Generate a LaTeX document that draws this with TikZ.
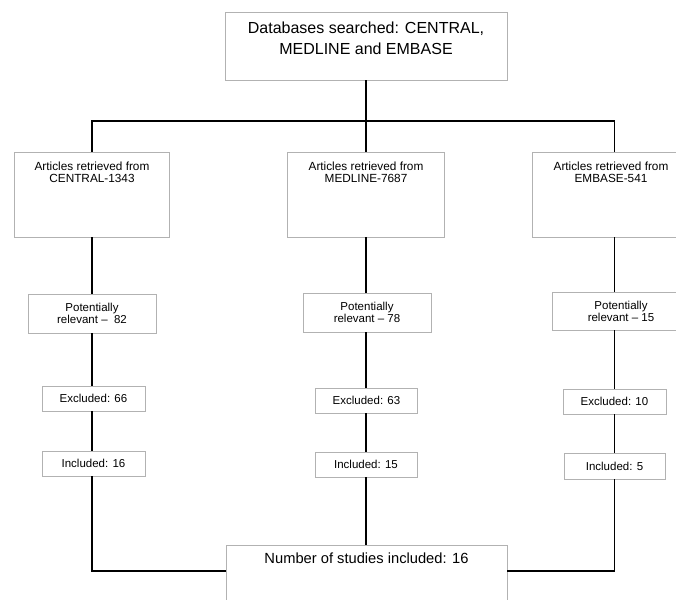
\documentclass[tikz,border=0pt]{standalone}
\usepackage{fontspec}
\setmainfont{Liberation Sans}
\usepackage{xcolor}
\usepackage{tikz}
\definecolor{boxgray}{RGB}{178,178,178}

\begin{document}
\begin{tikzpicture}[x=1pt,y=1pt]
		\tikzstyle{every node}+=[inner sep=0pt]
		\tikzstyle{box}=[draw=boxgray, line width=0.9pt, fill=white]
		\tikzstyle{link}=[black, line width=1.7pt]
		\tikzstyle{big}=[align=center, font=\fontsize{16}{21}\selectfont]
		\tikzstyle{mid}=[align=center, font=\fontsize{11.8}{12.6}\selectfont]
		\tikzstyle{small}=[align=center, font=\fontsize{11.5}{12.2}\selectfont]
		\useasboundingbox (0,0) rectangle (676,-599);
		\clip (0,0) rectangle (676,-599);
		\fill [white] (0,0) rectangle (676,-599);
		\node [box, minimum width=282, minimum height=68] (db) at (366,-46) {};
		\node [box, minimum width=155, minimum height=85] (artl) at (92,-194.5) {};
		\node [box, minimum width=157, minimum height=85] (artm) at (366,-194.5) {};
		\node [box, minimum width=157, minimum height=85] (artr) at (611,-194.5) {};
		\node [box, small, minimum width=128, minimum height=39] (prl) at (92,-313.5) {Potentially\\relevant –\ \ 82};
		\node [box, small, minimum width=128, minimum height=39] (prm) at (367,-312.5) {Potentially\\relevant – 78};
		\node [box, small, minimum width=138, minimum height=38] (prr) at (621,-311) {Potentially\\relevant – 15};
		\node [box, small, minimum width=103, minimum height=25] (exl) at (93.5,-398.5) {Excluded: 66};
		\node [box, small, minimum width=102, minimum height=25] (exm) at (366.5,-400.5) {Excluded: 63};
		\node [box, small, minimum width=103, minimum height=25] (exr) at (614.5,-401.5) {Excluded: 10};
		\node [box, small, minimum width=103, minimum height=25] (inl) at (93.5,-463.5) {Included: 16};
		\node [box, small, minimum width=102, minimum height=25] (inm) at (366,-464.5) {Included: 15};
		\node [box, small, minimum width=101, minimum height=26] (inr) at (614.5,-466) {Included: 5};
		\node [box, minimum width=281, minimum height=70] (total) at (366.5,-580) {};
		\node [big, anchor=north] (dbtext) at ([yshift=-10]db.north) {Databases searched: CENTRAL,\\MEDLINE and EMBASE};
		\node [mid, anchor=north] (artltext) at ([yshift=-10]artl.north) {Articles retrieved from\\CENTRAL-1343};
		\node [mid, anchor=north] (artmtext) at ([yshift=-10]artm.north) {Articles retrieved from\\MEDLINE-7687};
		\node [mid, anchor=north] (artrtext) at ([yshift=-10]artr.north) {Articles retrieved from\\EMBASE-541};
		\node [anchor=north, font=\fontsize{14.7}{17}\selectfont] (totaltext) at ([yshift=-8.3]total.north) {Number of studies included: 16};
		\coordinate (split) at (366,-121);
		\coordinate (merge) at (366,-571);
		\draw [link] (db.south) -- (artm.north);
		\draw [link] (artl.north -| prl) |- (split) -| (exr |- artr.north);
		\draw [link] (artl.south -| prl) -- (prl.north);
		\draw [link] (prl.south) -- (prl.south |- exl.north);
		\draw [link] (exl.south -| prl) -- (inl.north -| prl);
		\draw [link] (inl.south -| prl) |- (merge -| total.west);
		\draw [link] (artm.south) -- (artm.south |- prm.north);
		\draw [link] (prm.south -| artm) -- (exm.north -| artm);
		\draw [link] (exm.south -| artm) -- (inm.north -| artm);
		\draw [link] (inm.south -| artm) -- (total.north -| artm);
		\draw [link] (artr.south -| exr) -- (prr.north -| exr);
		\draw [link] (prr.south -| exr) -- (exr.north);
		\draw [link] (exr.south) -- (inr.north);
		\draw [link] (inr.south) |- (merge -| total.east);
		\end{tikzpicture}
\end{document}
